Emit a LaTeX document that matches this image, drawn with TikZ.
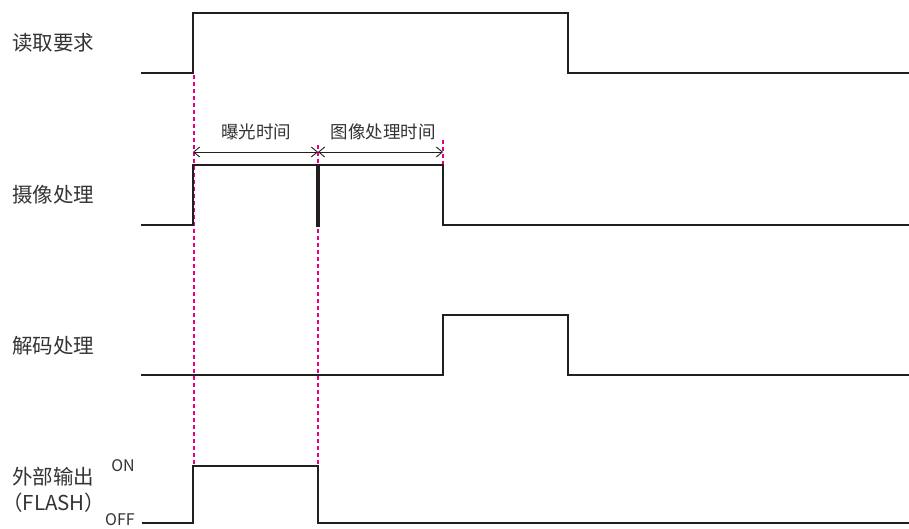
\documentclass[tikz,border=0pt]{standalone}
\usepackage{fontspec}
\setmainfont{Noto Sans CJK SC}
\usetikzlibrary{arrows.meta}
\definecolor{txt}{HTML}{333333}
\definecolor{sig}{HTML}{231F20}
\definecolor{mag}{HTML}{E6007E}
\tikzset{
  signal/.style={line width=2.6pt, color=sig, line join=miter},
  guide/.style={line width=1.2pt, color=mag, dash pattern=on 4pt off 3pt},
  lbl/.style={font=\fontsize{20.5}{24}\selectfont, text=txt, anchor=west, inner sep=0pt},
  small/.style={font=\fontsize{17.5}{20}\selectfont, text=txt, inner sep=0pt},
  onoff/.style={font=\fontsize{16}{19}\selectfont, text=txt, inner sep=0pt},
  dim/.style={line width=0.9pt, color=sig, {Straight Barb[length=6pt,width=10pt]}-{Straight Barb[length=6pt,width=10pt]}}
}
\begin{document}
\begin{tikzpicture}[x=1pt,y=-1pt]
\useasboundingbox (0,0) rectangle (909,529);
% guides
\draw[guide] (194,75) -- (194,466);
\draw[guide] (318,145) -- (318,466);
\draw[guide] (443,140) -- (443,165);
% labels
\node[lbl] (l1) at (12,43) {读取要求};
\node[lbl] (l2) at (12,195) {摄像处理};
\node[lbl] (l3) at (12,346) {解码处理};
\node[lbl] (l4) at (12,477) {外部输出};
\node[lbl] (l5) at (2,503) {（FLASH）};
\node[onoff] (on) at (123,466) {ON};
\node[onoff] (off) at (120,520) {OFF};
% signals
\coordinate (a0) at (141,73); \coordinate (a1) at (193,73); \coordinate (a2) at (193,13);
\coordinate (a3) at (568,13); \coordinate (a4) at (568,73); \coordinate (a5) at (909,73);
\draw[signal] (a0) -- (a1) -- (a2) -- (a3) -- (a4) -- (a5);
\coordinate (b0) at (141,225); \coordinate (b1) at (193,225); \coordinate (b2) at (193,165);
\coordinate (b3) at (443,165); \coordinate (b4) at (443,225); \coordinate (b5) at (909,225);
\draw[signal] (b0) -- (b1) -- (b2) -- (b3) -- (b4) -- (b5);
\coordinate (bm1) at (318,165); \coordinate (bm2) at (318,227);
\draw[signal, line width=3.2pt] (bm1) -- (bm2);
\coordinate (c0) at (141,375); \coordinate (c1) at (443,375); \coordinate (c2) at (443,315);
\coordinate (c3) at (568,315); \coordinate (c4) at (568,375); \coordinate (c5) at (909,375);
\draw[signal] (c0) -- (c1) -- (c2) -- (c3) -- (c4) -- (c5);
\coordinate (d0) at (142,523); \coordinate (d1) at (193,523); \coordinate (d2) at (193,466);
\coordinate (d3) at (318,466); \coordinate (d4) at (318,523); \coordinate (d5) at (909,523);
\draw[signal] (d0) -- (d1) -- (d2) -- (d3) -- (d4) -- (d5);
% dimensions
\coordinate (e0) at (193,152); \coordinate (e1) at (318,152); \coordinate (e2) at (443,152);
\draw[dim] (e0) -- (e1);
\draw[dim] (e1) -- (e2);
\node[small] (t1) at (256,132) {曝光时间};
\node[small] (t2) at (383,132) {图像处理时间};
\end{tikzpicture}
\end{document}
